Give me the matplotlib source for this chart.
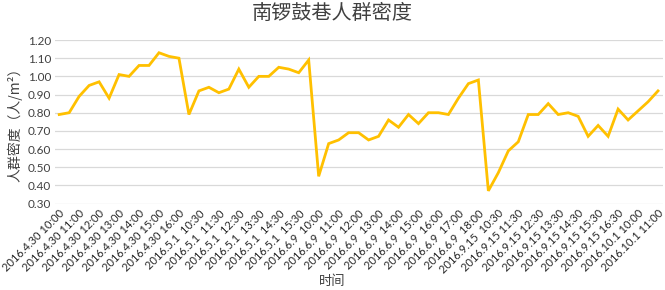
import matplotlib
matplotlib.use("Agg")
import matplotlib.pyplot as plt
import numpy as np

plt.rcParams['font.family'] = ['Noto Sans CJK SC', 'DejaVu Sans']

# 61 samples, every other one labelled on the axis
density = [
    0.79, 0.80, 0.89, 0.95, 0.97, 0.88, 1.01, 1.00, 1.06, 1.06,
    1.13, 1.11, 1.10, 0.79, 0.92, 0.94, 0.91, 0.93, 1.04, 0.94,
    1.00, 1.00, 1.05, 1.04, 1.02, 1.09, 0.45, 0.63, 0.65, 0.69,
    0.69, 0.65, 0.67, 0.76, 0.72, 0.79, 0.74, 0.80, 0.80, 0.79,
    0.88, 0.96, 0.98, 0.37, 0.47, 0.59, 0.64, 0.79, 0.79, 0.85,
    0.79, 0.80, 0.78, 0.67, 0.73, 0.67, 0.82, 0.76, 0.81, 0.86,
    0.92,
]

tick_labels = [
    "2016.4.30 10:00", "2016.4.30 11:00", "2016.4.30 12:00", "2016.4.30 13:00",
    "2016.4.30 14:00", "2016.4.30 15:00", "2016.4.30 16:00",
    "2016.5.1  10:30", "2016.5.1  11:30", "2016.5.1  12:30", "2016.5.1  13:30",
    "2016.5.1  14:30", "2016.5.1  15:30",
    "2016.6.9  10:00", "2016.6.9  11:00", "2016.6.9  12:00", "2016.6.9  13:00",
    "2016.6.9  14:00", "2016.6.9  15:00", "2016.6.9  16:00", "2016.6.9  17:00",
    "2016.6.9  18:00",
    "2016.9.15  10:30", "2016.9.15 11:30", "2016.9.15 12:30", "2016.9.15 13:30",
    "2016.9.15 14:30", "2016.9.15 15:30", "2016.9.15 16:30",
    "2016.10.1 10:00", "2016.10.1 11:00",
]

x = np.arange(len(density))

fig = plt.figure(figsize=(6.65, 2.9), dpi=100)
ax = fig.add_axes([0.083, 0.298, 0.914, 0.564])

ax.plot(x, density, color="#FFC000", lw=2.0, solid_joinstyle="miter")

ax.set_ylim(0.3, 1.2)
ax.set_xlim(-0.4, 60.5)
ax.set_yticks(np.arange(0.3, 1.21, 0.1))
ax.set_yticklabels([f"{v:.2f}" for v in np.arange(0.3, 1.21, 0.1)],
                   fontsize=8.5, color="#404040", family="Lato")
ax.set_xticks(x[::2])
ax.set_xticklabels(tick_labels, rotation=45, ha="right", rotation_mode="anchor",
                   fontsize=8, color="#262626", family="Lato")
ax.tick_params(axis="both", length=0, pad=3)
ax.grid(axis="y", color="#D9D9D9", lw=0.9)
ax.set_axisbelow(True)
for s in ax.spines.values():
    s.set_visible(False)

fig.text(0.5, 0.955, "南锣鼓巷人群密度", ha="center", va="center",
         fontsize=14.5, color="#404040")
fig.text(0.022, 0.58, "人群密度（人/m²）", rotation=90, ha="center", va="center",
         fontsize=10, color="#404040")
fig.text(0.5, 0.03, "时间", ha="center", va="center", fontsize=9.5, color="#404040")

fig.savefig("out.png", dpi=100)
